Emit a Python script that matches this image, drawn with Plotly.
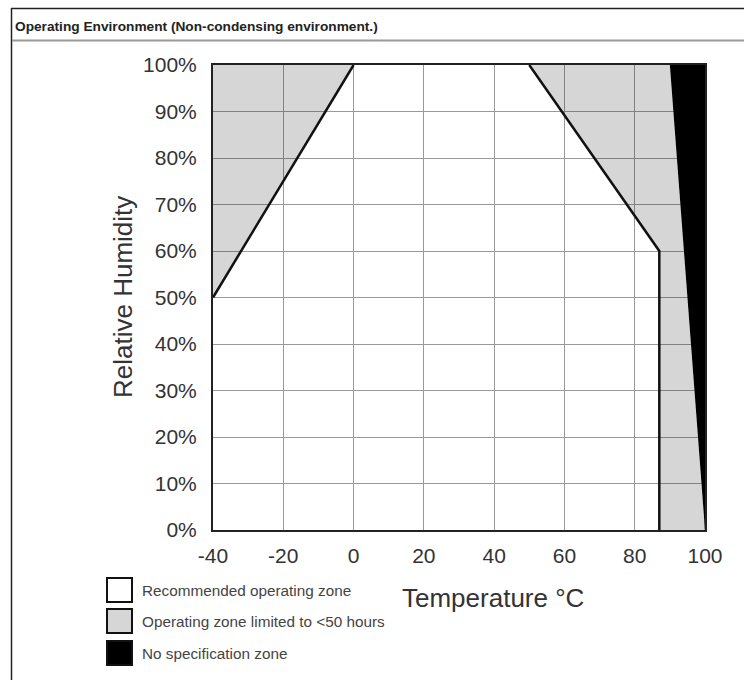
import plotly.graph_objects as go

# ---- data (temperature °C, relative humidity %) ----
limited_left_temp = [-40, 0, -40]
limited_left_rh = [100, 100, 50]

limited_right_temp = [50, 90, 100, 87, 87]
limited_right_rh = [100, 100, 0, 0, 60]

nospec_temp = [90, 100, 100]
nospec_rh = [100, 100, 0]

boundary_left_temp = [-40, 0]
boundary_left_rh = [50, 100]

boundary_right_temp = [50, 87, 87]
boundary_right_rh = [100, 60, 0]

x_ticks = [-40, -20, 0, 20, 40, 60, 80, 100]
x_tick_labels = ["-40", "-20", "0", "20", "40", "60", "80", "100"]
y_ticks = [0, 10, 20, 30, 40, 50, 60, 70, 80, 90, 100]
y_tick_labels = ["0%", "10%", "20%", "30%", "40%", "50%", "60%", "70%", "80%", "90%", "100%"]

legend_labels = ["Recommended operating zone",
                 "Operating zone limited to <50 hours",
                 "No specification zone"]
legend_colors = ["white", "#d6d6d6", "black"]

title_text = "Operating Environment (Non-condensing environment.)"
x_title = "Temperature °C"
y_title = "Relative Humidity"

# ---- figure ----
W, H = 744, 680
L, R, T, B = 213, 39, 65, 150
PW, PH = W - L - R, H - T - B


def px(x):
    return (x - L) / PW


def py(y):
    return (H - B - y) / PH


fig = go.Figure()

gray_fill = "rgba(0,0,0,0.16)"
fig.add_trace(go.Scatter(x=limited_left_temp, y=limited_left_rh, fill="toself",
                         fillcolor=gray_fill, mode="lines", line=dict(width=0),
                         hoverinfo="skip", showlegend=False))
fig.add_trace(go.Scatter(x=limited_right_temp, y=limited_right_rh, fill="toself",
                         fillcolor=gray_fill, mode="lines", line=dict(width=0),
                         hoverinfo="skip", showlegend=False))
fig.add_trace(go.Scatter(x=nospec_temp, y=nospec_rh, fill="toself",
                         fillcolor="black", mode="lines", line=dict(width=0.5, color="black"),
                         hoverinfo="skip", showlegend=False))
fig.add_trace(go.Scatter(x=boundary_left_temp, y=boundary_left_rh, mode="lines",
                         line=dict(color="#111", width=2.5), hoverinfo="skip", showlegend=False))
fig.add_trace(go.Scatter(x=boundary_right_temp, y=boundary_right_rh, mode="lines",
                         line=dict(color="#111", width=2.5), hoverinfo="skip", showlegend=False))

tick_font = dict(family="Liberation Sans, Arial, sans-serif", size=21, color="#333")

fig.update_xaxes(range=[-40, 100], tickvals=x_ticks, ticktext=x_tick_labels, showgrid=True,
                 gridcolor="#9a9a9a", gridwidth=1, zeroline=False, showline=True,
                 linecolor="#222", linewidth=2, mirror=True, ticks="", tickfont=tick_font,
                 ticklabelstandoff=6)
fig.update_yaxes(range=[0, 100], tickvals=y_ticks, ticktext=y_tick_labels, showgrid=True,
                 gridcolor="#9a9a9a", gridwidth=1, zeroline=False, showline=True,
                 linecolor="#222", linewidth=2, mirror=True, ticks="", tickfont=tick_font,
                 ticklabelstandoff=10)

shapes = []
# outer frame (top and left) and title separator
shapes.append(dict(type="line", xref="paper", yref="paper", x0=px(11), x1=px(744),
                   y0=py(8.5), y1=py(8.5), line=dict(color="#222", width=1.5)))
shapes.append(dict(type="line", xref="paper", yref="paper", x0=px(11.5), x1=px(11.5),
                   y0=py(8), y1=py(680), line=dict(color="#222", width=1.5)))
shapes.append(dict(type="line", xref="paper", yref="paper", x0=px(12), x1=px(744),
                   y0=py(40.5), y1=py(40.5), line=dict(color="#9a9a9a", width=2)))

annotations = []
annotations.append(dict(text="<b>" + title_text + "</b>", xref="paper", yref="paper",
                        x=px(13), y=py(27), xanchor="left", yanchor="middle", showarrow=False,
                        font=dict(family="Liberation Sans, Arial, sans-serif",
                                  size=13.7, color="#222")))
annotations.append(dict(text=y_title, xref="paper", yref="paper", x=px(123), y=py(297),
                        xanchor="center", yanchor="middle", textangle=-90, showarrow=False,
                        font=dict(family="Liberation Sans, Arial, sans-serif", size=26, color="#333")))
annotations.append(dict(text=x_title, xref="paper", yref="paper", x=px(493), y=py(598),
                        xanchor="center", yanchor="middle", showarrow=False,
                        font=dict(family="Liberation Sans, Arial, sans-serif", size=26, color="#333")))

box_tops = [578, 609, 641]
for label, color, top in zip(legend_labels, legend_colors, box_tops):
    shapes.append(dict(type="rect", xref="paper", yref="paper", x0=px(107), x1=px(132),
                       y0=py(top), y1=py(top + 24), fillcolor=color,
                       line=dict(color="#111", width=2)))
    annotations.append(dict(text=label, xref="paper", yref="paper", x=px(140),
                            y=py(top + 12), xanchor="left", yanchor="middle", showarrow=False,
                            font=dict(family="Liberation Sans, Arial, sans-serif", size=15.3,
                                      color="#444")))

fig.update_layout(width=W, height=H, margin=dict(l=L, r=R, t=T, b=B),
                  paper_bgcolor="white", plot_bgcolor="white",
                  shapes=shapes, annotations=annotations, showlegend=False)

fig.write_html("out.html")
